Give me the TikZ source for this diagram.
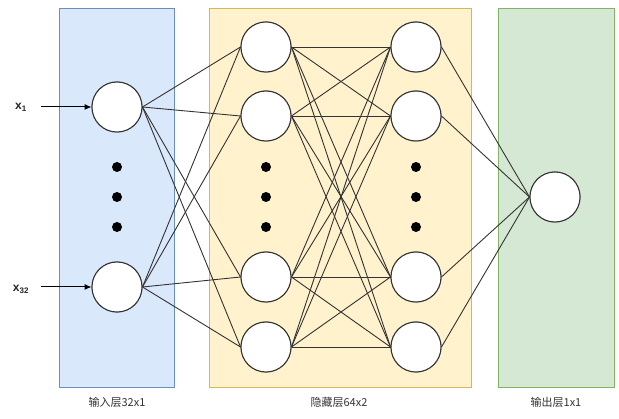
\documentclass[tikz,border=0pt]{standalone}
\usepackage{fontspec}
\setmainfont{Liberation Sans}
\newfontfamily\cjk{Noto Sans CJK SC}
\usetikzlibrary{arrows.meta}
\definecolor{bluefill}{HTML}{DAE8FC}
\definecolor{bluedraw}{HTML}{6C8EBF}
\definecolor{yelfill}{HTML}{FFF2CC}
\definecolor{yeldraw}{HTML}{D6B656}
\definecolor{grnfill}{HTML}{D5E8D4}
\definecolor{grndraw}{HTML}{82B366}
\definecolor{edge}{HTML}{333333}
\begin{document}
\begin{tikzpicture}[x=1pt,y=-1pt,
  neuron/.style={circle,draw=edge,fill=white,line width=1pt,minimum size=50pt,inner sep=0pt},
  dotn/.style={circle,fill=black,minimum size=10pt,inner sep=0pt},
  conn/.style={draw=edge,line width=0.9pt},
  layer/.style={line width=1pt,inner sep=0pt,anchor=north west},
  caplabel/.style={font=\cjk\fontsize{11}{13}\selectfont,text=black!80},
  inlabel/.style={font=\bfseries\fontsize{12}{14}\selectfont,text=black!85}
]
\useasboundingbox (0,0) rectangle (619,419);
% layers
\node[layer,draw=bluedraw,fill=bluefill,minimum width=115pt,minimum height=379pt] (Lin) at (59,8) {};
\node[layer,draw=yeldraw,fill=yelfill,minimum width=262pt,minimum height=379pt] (Lhid) at (208.5,8) {};
\node[layer,draw=grndraw,fill=grnfill,minimum width=116pt,minimum height=379pt] (Lout) at (498,8) {};
% captions
\node[caplabel] (c1) at (117,402) {输入层32x1};
\node[caplabel] (c2) at (339,402) {隐藏层64x2};
\node[caplabel] (c3) at (556,402) {输出层1x1};
% input neurons
\node[neuron] (i1) at (117,107) {};
\node[neuron] (i2) at (117,287) {};
% hidden
\foreach \n/\y in {1/47,2/116,3/277,4/347}{
  \node[neuron] (h\n) at (266,\y) {};
  \node[neuron] (g\n) at (416,\y) {};
}
\node[neuron] (o) at (555,197) {};
% dots
\foreach \x/\c in {117/a,266/b,416/c}{
  \foreach \y/\k in {167/1,197/2,227/3}{
    \node[dotn] (d\c\k) at (\x,\y) {};
  }
}
% connections
\foreach \i in {1,2}{\foreach \h in {1,2,3,4}{\draw[conn] (i\i.east) -- (h\h.west);}}
\foreach \h in {1,2,3,4}{\foreach \g in {1,2,3,4}{\draw[conn] (h\h.east) -- (g\g.west);}}
\foreach \g in {1,2,3,4}{\draw[conn] (g\g.east) -- (o.west);}
% redraw neurons on top
\foreach \n in {i1,i2,h1,h2,h3,h4,g1,g2,g3,g4,o}{\draw[edge,line width=1pt,fill=white] (\n.center) circle (25pt);}
% inputs
\node[inlabel] (x1) at (21,107) {x\textsubscript{1}};
\node[inlabel] (x32) at (21,289) {x\textsubscript{32}};
\coordinate (a1) at (41,107);
\coordinate (a2) at (41,287);
\draw[line width=1pt,-{Latex[length=7pt,width=6pt]}] (a1) -- (i1.west);
\draw[line width=1pt,-{Latex[length=7pt,width=6pt]}] (a2) -- (i2.west);
\end{tikzpicture}
\end{document}
